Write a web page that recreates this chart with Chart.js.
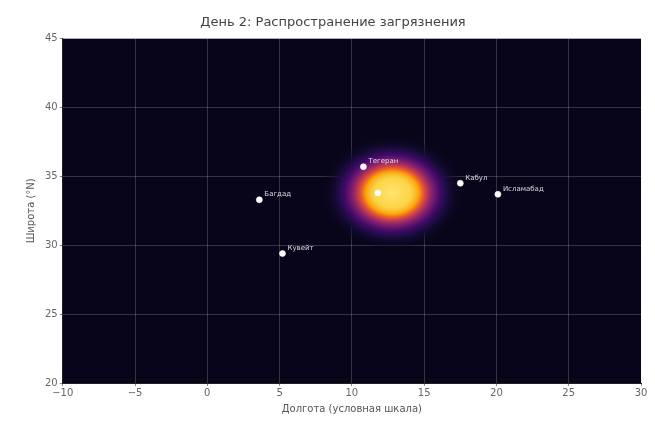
<!DOCTYPE html>
<html>
<head>
<meta charset="utf-8">
<script src="https://cdn.jsdelivr.net/npm/chart.js@4/dist/chart.umd.min.js"></script>
<style>
html,body{margin:0;padding:0;background:#fff;}
#wrap{width:655px;height:424px;}
</style>
</head>
<body>
<div id="wrap"><canvas id="c" width="655" height="424"></canvas></div>
<script>
const titleText = "День 2: Распространение загрязнения";
const xTitle = "Долгота (условная шкала)";
const yTitle = "Широта (°N)";
const xRange = [-10, 30];
const yRange = [20, 45];
const cityNames = ["Тегеран", "Багдад", "Кувейт", "Кабул", "Исламабад", ""];
const cityLon = [10.8, 3.6, 5.2, 17.5, 20.1, 11.8];
const cityLat = [35.7, 33.3, 29.4, 34.5, 33.7, 33.8];
const plumeCenter = [12.8, 33.8];
const plumeExtent = [3.8, 3.2];

const infernoStops = [
  [0.00, '#ffe470'],
  [0.34, '#fcd447'],
  [0.42, '#f8bd2c'],
  [0.48, '#fca50a'],
  [0.53, '#f37819'],
  [0.58, '#dd513a'],
  [0.64, '#bc3754'],
  [0.70, '#932667'],
  [0.78, '#6a176e'],
  [0.87, '#420a68'],
  [1.00, '#1c0c42'],
  [1.30, 'rgba(8,5,26,0)']
];

const plumePlugin = {
  id: 'plume',
  beforeDatasetsDraw(chart) {
    const {ctx, chartArea, scales} = chart;
    const cx = scales.x.getPixelForValue(plumeCenter[0]);
    const cy = scales.y.getPixelForValue(plumeCenter[1]);
    const rx = Math.abs(scales.x.getPixelForValue(plumeCenter[0] + plumeExtent[0]) - cx);
    const ry = Math.abs(scales.y.getPixelForValue(plumeCenter[1] + plumeExtent[1]) - cy);
    ctx.save();
    ctx.beginPath();
    ctx.rect(chartArea.left, chartArea.top, chartArea.width, chartArea.height);
    ctx.clip();
    ctx.translate(cx, cy);
    ctx.scale(rx, ry);
    const R = 1.3;
    const g = ctx.createRadialGradient(0, 0, 0, 0, 0, R);
    infernoStops.forEach(s => g.addColorStop(s[0] / R, s[1]));
    ctx.fillStyle = g;
    ctx.beginPath();
    ctx.arc(0, 0, R, 0, Math.PI * 2);
    ctx.fill();
    ctx.restore();
  }
};

const bgPlugin = {
  id: 'bg',
  beforeDraw(chart) {
    const {ctx, chartArea} = chart;
    ctx.save();
    ctx.fillStyle = '#08051a';
    ctx.fillRect(chartArea.left, chartArea.top, chartArea.width, chartArea.height);
    ctx.restore();
  }
};

const labelPlugin = {
  id: 'cityLabels',
  afterDatasetsDraw(chart) {
    const {ctx, scales} = chart;
    ctx.save();
    ctx.font = '7px "DejaVu Sans"';
    ctx.fillStyle = 'rgba(235,235,240,0.9)';
    ctx.textBaseline = 'bottom';
    ctx.textAlign = 'left';
    cityNames.forEach((n, i) => {
      if (!n) return;
      const x = scales.x.getPixelForValue(cityLon[i]);
      const y = scales.y.getPixelForValue(cityLat[i]);
      ctx.fillText(n, x + 5, y - 2);
    });
    ctx.restore();
  }
};

const minus = v => String(v).replace('-', '\u2212');

new Chart(document.getElementById('c'), {
  type: 'scatter',
  data: {
    datasets: [{
      data: cityLon.map((x, i) => ({x, y: cityLat[i]})),
      pointRadius: 3,
      pointBackgroundColor: '#ffffff',
      pointBorderColor: 'rgba(255,255,255,0.6)',
      pointBorderWidth: 1
    }]
  },
  plugins: [bgPlugin, plumePlugin, labelPlugin],
  options: {
    responsive: false,
    animation: false,
    devicePixelRatio: 1,
    layout: {padding: {top: 9, right: 14, left: 25, bottom: 9}},
    plugins: {
      legend: {display: false},
      tooltip: {enabled: false},
      title: {
        display: true,
        text: titleText,
        color: '#444',
        font: {family: 'DejaVu Sans', size: 13, weight: 'normal'},
        padding: {top: 6, bottom: 8}
      }
    },
    scales: {
      x: {
        type: 'linear',
        min: xRange[0], max: xRange[1],
        ticks: {stepSize: 5, color: '#666', font: {family: 'DejaVu Sans', size: 10}, padding: 1, callback: minus},
        grid: {color: 'rgba(255,255,255,0.18)', drawTicks: true, tickLength: 3, tickColor: '#888'},
        border: {display: true, color: '#222'},
        title: {display: true, text: xTitle, color: '#555', font: {family: 'DejaVu Sans', size: 10}, padding: {top: 3, bottom: 0}}
      },
      y: {
        type: 'linear',
        min: yRange[0], max: yRange[1],
        ticks: {stepSize: 5, color: '#666', font: {family: 'DejaVu Sans', size: 10}, padding: 2, callback: minus},
        grid: {color: 'rgba(255,255,255,0.18)', drawTicks: true, tickLength: 3, tickColor: '#888'},
        border: {display: true, color: '#222'},
        title: {display: true, text: yTitle, color: '#555', font: {family: 'DejaVu Sans', size: 10}, padding: {top: 0, bottom: 6}}
      }
    }
  }
});
</script>
</body>
</html>
